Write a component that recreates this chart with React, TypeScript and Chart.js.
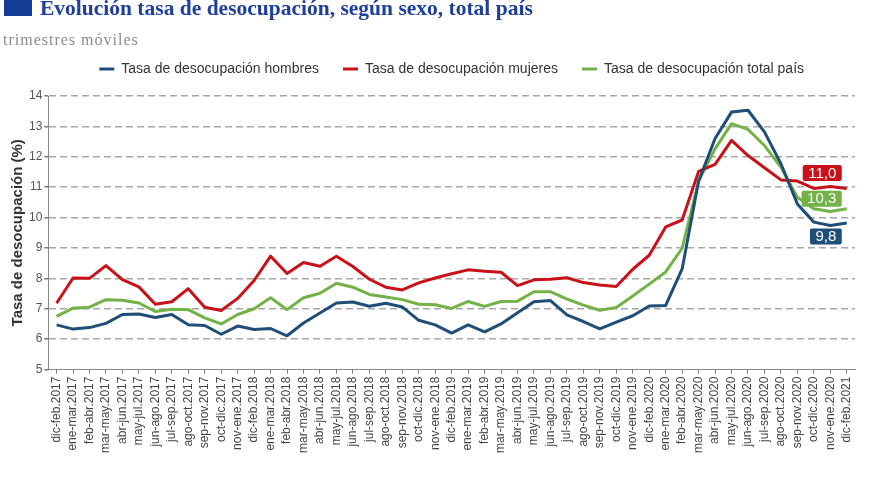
import React, { useEffect, useRef } from 'react';
import { Chart, registerables } from 'chart.js';

Chart.register(...registerables);

const categories = [
  'dic-feb.2017', 'ene-mar.2017', 'feb-abr.2017', 'mar-may.2017', 'abr-jun.2017', 'may-jul.2017',
  'jun-ago.2017', 'jul-sep.2017', 'ago-oct.2017', 'sep-nov.2017', 'oct-dic.2017', 'nov-ene.2017',
  'dic-feb.2018', 'ene-mar.2018', 'feb-abr.2018', 'mar-may.2018', 'abr-jun.2018', 'may-jul.2018',
  'jun-ago.2018', 'jul-sep.2018', 'ago-oct.2018', 'sep-nov.2018', 'oct-dic.2018', 'nov-ene.2018',
  'dic-feb.2019', 'ene-mar.2019', 'feb-abr.2019', 'mar-may.2019', 'abr-jun.2019', 'may-jul.2019',
  'jun-ago.2019', 'jul-sep.2019', 'ago-oct.2019', 'sep-nov.2019', 'oct-dic.2019', 'nov-ene.2019',
  'dic-feb.2020', 'ene-mar.2020', 'feb-abr.2020', 'mar-may.2020', 'abr-jun.2020', 'may-jul.2020',
  'jun-ago.2020', 'jul-sep.2020', 'ago-oct.2020', 'sep-nov.2020', 'oct-dic.2020', 'nov-ene.2020',
  'dic-feb.2021',
];

const hombres = [
  6.47, 6.33, 6.38, 6.52, 6.81, 6.83, 6.71, 6.81, 6.47, 6.45, 6.16, 6.43,
  6.32, 6.35, 6.11, 6.53, 6.86, 7.19, 7.22, 7.08, 7.18, 7.06, 6.62, 6.47,
  6.20, 6.47, 6.24, 6.50, 6.87, 7.23, 7.27, 6.80, 6.58, 6.34, 6.56, 6.77,
  7.09, 7.11, 8.31, 11.2, 12.6, 13.47, 13.53, 12.82, 11.77, 10.45, 9.85, 9.74,
  9.82,
];

const mujeres = [
  7.18, 8.01, 8.0, 8.42, 7.96, 7.72, 7.15, 7.23, 7.66, 7.05, 6.94, 7.34,
  7.93, 8.73, 8.16, 8.52, 8.40, 8.73, 8.39, 7.97, 7.71, 7.62, 7.85, 8.01,
  8.15, 8.28, 8.23, 8.20, 7.76, 7.95, 7.97, 8.02, 7.86, 7.78, 7.73, 8.30,
  8.76, 9.69, 9.92, 11.52, 11.75, 12.54, 12.04, 11.64, 11.24, 11.2, 10.96, 11.02,
  10.96,
];

const totalPais = [
  6.75, 7.02, 7.05, 7.30, 7.28, 7.19, 6.91, 6.98, 6.97, 6.70, 6.50, 6.81,
  7.0, 7.36, 6.97, 7.36, 7.51, 7.84, 7.71, 7.47, 7.39, 7.30, 7.15, 7.13,
  7.01, 7.24, 7.08, 7.24, 7.25, 7.56, 7.56, 7.32, 7.12, 6.95, 7.04, 7.42,
  7.81, 8.21, 8.99, 11.2, 12.26, 13.09, 12.9, 12.37, 11.66, 10.67, 10.29, 10.2,
  10.29,
];

const seriesNames = [
  'Tasa de desocupación hombres',
  'Tasa de desocupación mujeres',
  'Tasa de desocupación total país',
];

const yMin = 5;
const yMax = 14;
const yStep = 1;

const titleText = 'Evolución tasa de desocupación, según sexo, total país';
const subtitleText = 'trimestres móviles';
const yAxisTitle = 'Tasa de desocupación (%)';

const COLORS = ['#1f4e79', '#c9111a', '#72b246'];
const LABEL_OFFSETS = [13.5, -15.5, -10];
const SANS = '"Liberation Sans", Arial, sans-serif';

export default function App() {
  const canvasRef = useRef<HTMLCanvasElement | null>(null);

  useEffect(() => {
    if (!canvasRef.current) return;

    const legendSpacer = {
      id: 'legendSpacer',
      beforeLayout(chart: any) {
        const lg = chart.legend;
        if (lg && !lg.__spaced) {
          const orig = lg.fit;
          lg.fit = function () {
            orig.call(this);
            this.height += 10;
          };
          lg.__spaced = true;
        }
      },
    };

    const endLabels = {
      id: 'endLabels',
      afterDatasetsDraw(chart: any) {
        const ctx = chart.ctx;
        ctx.save();
        chart.data.datasets.forEach((ds: any, i: number) => {
          const meta = chart.getDatasetMeta(i);
          const pt = meta.data[meta.data.length - 1];
          if (!pt) return;
          const val = ds.data[ds.data.length - 1] as number;
          const text = val.toFixed(1).replace('.', ',');
          ctx.font = `15px ${SANS}`;
          const w = ctx.measureText(text).width + 11;
          const h = 16;
          const right = pt.x - 5;
          const cy = pt.y + LABEL_OFFSETS[i];
          const x0 = right - w;
          const y0 = cy - h / 2;
          const r = 2;
          ctx.beginPath();
          ctx.moveTo(x0 + r, y0);
          ctx.lineTo(x0 + w - r, y0);
          ctx.quadraticCurveTo(x0 + w, y0, x0 + w, y0 + r);
          ctx.lineTo(x0 + w, y0 + h - r);
          ctx.quadraticCurveTo(x0 + w, y0 + h, x0 + w - r, y0 + h);
          ctx.lineTo(x0 + r, y0 + h);
          ctx.quadraticCurveTo(x0, y0 + h, x0, y0 + h - r);
          ctx.lineTo(x0, y0 + r);
          ctx.quadraticCurveTo(x0, y0, x0 + r, y0);
          ctx.closePath();
          ctx.fillStyle = ds.borderColor;
          ctx.fill();
          ctx.fillStyle = '#ffffff';
          ctx.textAlign = 'center';
          ctx.textBaseline = 'middle';
          ctx.fillText(text, x0 + w / 2, cy + 0.5);
        });
        ctx.restore();
      },
    };

    const seriesData = [hombres, mujeres, totalPais];

    const chart = new Chart(canvasRef.current, {
      type: 'line',
      data: {
        labels: categories,
        datasets: seriesData.map((d, i) => ({
          label: seriesNames[i],
          data: d,
          borderColor: COLORS[i],
          backgroundColor: COLORS[i],
          borderWidth: 3,
          pointRadius: 0,
          pointHoverRadius: 0,
          tension: 0,
          fill: false,
          borderJoinStyle: 'round' as const,
        })),
      },
      options: {
        animation: false,
        responsive: false,
        maintainAspectRatio: false,
        layout: {
          padding: { top: 38, right: 28, bottom: 25, left: 0 },
        },
        plugins: {
          legend: {
            display: true,
            position: 'top',
            fullSize: false,
            labels: {
              font: { family: SANS, size: 14 },
              color: '#333333',
              boxWidth: 15,
              boxHeight: 3,
              padding: 24,
              generateLabels: (chart: any) => {
                const items = Chart.defaults.plugins.legend.labels.generateLabels(chart);
                return items.map((it: any) => ({ ...it, lineWidth: 0, fillStyle: it.strokeStyle }));
              },
            },
          },
          tooltip: { enabled: false },
        },
        scales: {
          x: {
            type: 'category',
            offset: true,
            grid: {
              drawOnChartArea: false,
              drawTicks: true,
              tickLength: 4,
              tickColor: '#777777',
            },
            border: { display: true, color: '#888888', width: 1 },
            ticks: {
              autoSkip: false,
              minRotation: 90,
              maxRotation: 90,
              padding: 3,
              color: '#444444',
              font: { family: SANS, size: 12 },
            },
          },
          y: {
            min: yMin,
            max: yMax,
            ticks: {
              stepSize: yStep,
              padding: 2,
              color: '#555555',
              font: { family: SANS, size: 12 },
            },
            grid: {
              color: (c: any) => (c.tick && c.tick.value === yMin ? 'rgba(0,0,0,0)' : '#a8a8a8'),
              lineWidth: 1.5,
              tickLength: 4,
              tickColor: '#777777',
            },
            border: { display: true, color: '#888888', width: 1, dash: [7, 4] },
            title: {
              display: true,
              text: yAxisTitle,
              color: '#333333',
              font: { family: SANS, size: 15, weight: 'bold' },
              padding: { top: 9, bottom: 0 },
            },
          },
        },
      },
      plugins: [legendSpacer, endLabels],
    } as any);

    return () => chart.destroy();
  }, []);

  return (
    <div style={{ position: 'absolute', left: 0, top: 0, width: 883, height: 481, background: '#ffffff', overflow: 'hidden' }}>
      <canvas ref={canvasRef} width={883} height={481} style={{ position: 'absolute', left: 0, top: 0, width: 883, height: 481 }} />
      <div style={{ position: 'absolute', left: 4, top: 0, width: 28, height: 16, background: '#163d96' }} />
      <div
        style={{
          position: 'absolute',
          left: 40,
          top: -4,
          font: 'bold 21.5px "Liberation Serif", "Times New Roman", serif',
          color: '#1f3f9c',
          whiteSpace: 'nowrap',
          lineHeight: '24px',
        }}
      >
        {titleText}
      </div>
      <div
        style={{
          position: 'absolute',
          left: 3,
          top: 30,
          font: '16px "Liberation Serif", "Times New Roman", serif',
          letterSpacing: '1px',
          color: '#8c8c8c',
          whiteSpace: 'nowrap',
          lineHeight: '20px',
        }}
      >
        {subtitleText}
      </div>
    </div>
  );
}
